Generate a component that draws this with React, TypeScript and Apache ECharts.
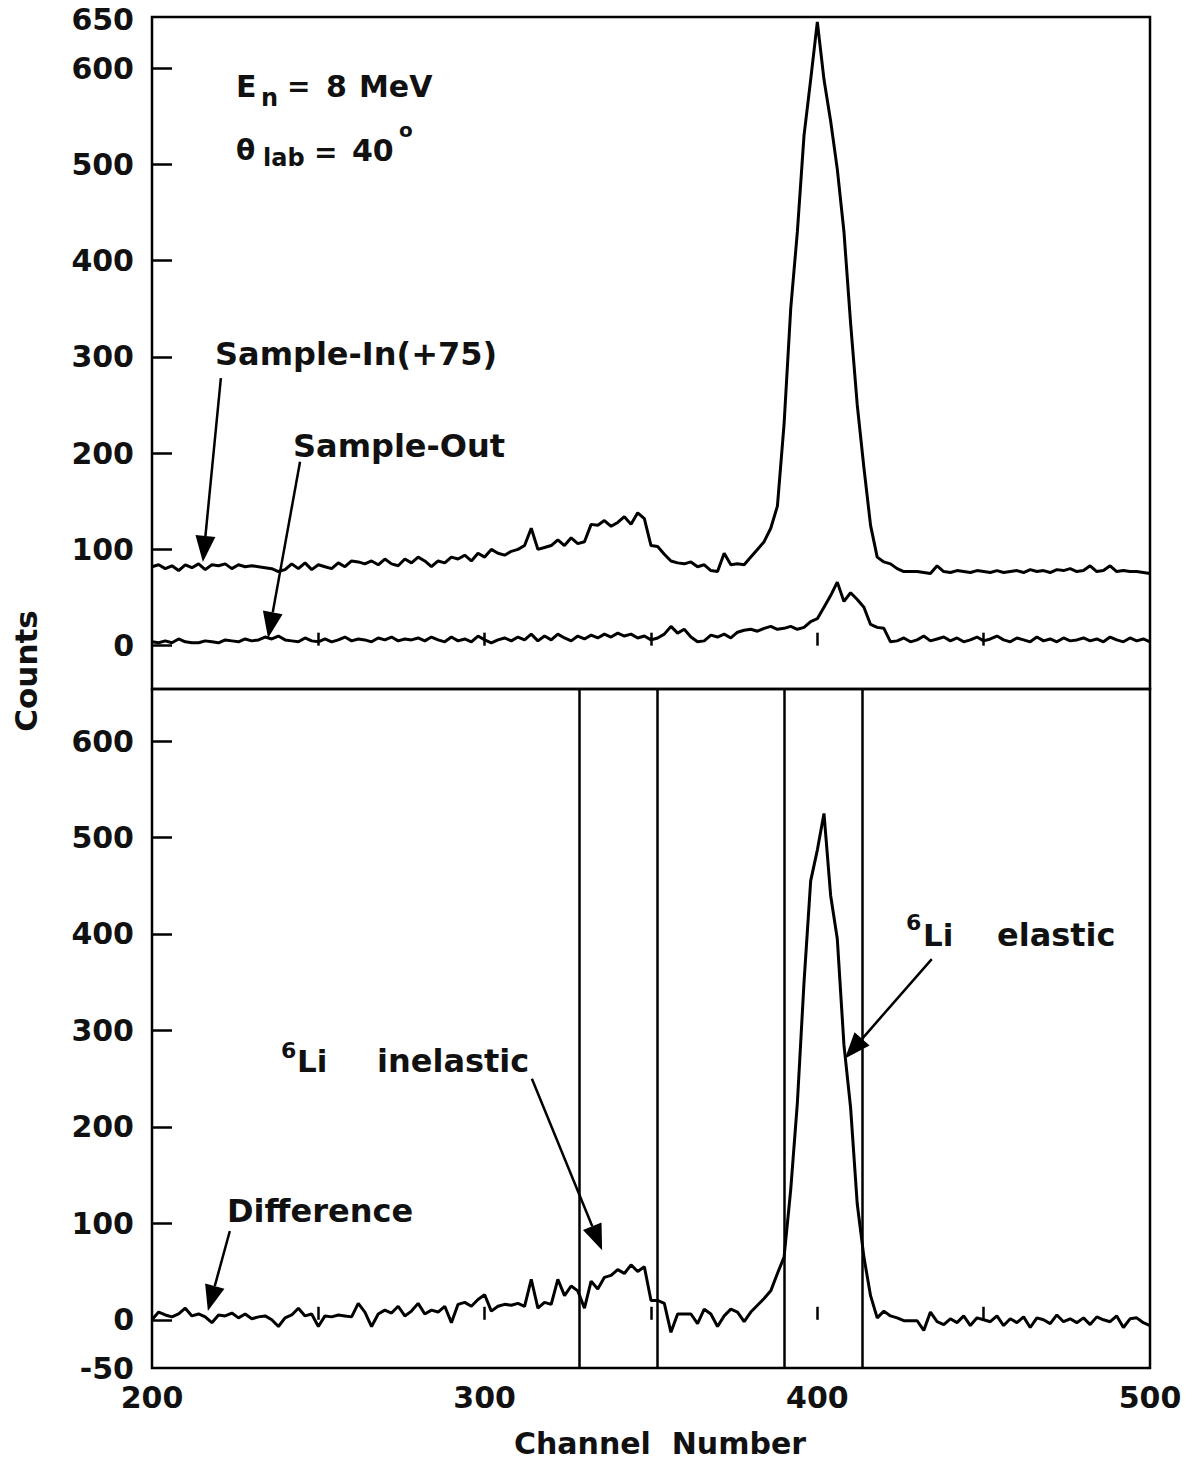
import React, { useEffect, useRef } from "react";
import * as echarts from "echarts";

// Channel axis: first channel and spacing of the listed counts
const CHANNEL_START = 200;
const CHANNEL_STEP = 2;

// Top panel: Sample-In (+75 offset), channels 200..500 step 2
const sampleIn = [
  82, 84, 80, 83, 78, 84, 81, 85, 79, 84,
  83, 85, 80, 84, 82, 83, 82, 81, 80, 77,
  79, 85, 80, 86, 79, 84, 82, 80, 86, 82,
  88, 87, 85, 88, 84, 90, 85, 83, 90, 86,
  92, 88, 82, 88, 86, 92, 90, 94, 88, 96,
  92, 100, 96, 94, 98, 100, 104, 122, 100, 102,
  104, 110, 104, 112, 106, 108, 126, 125, 130, 124,
  128, 134, 126, 138, 132, 104, 103, 95, 88, 86,
  85, 87, 82, 84, 78, 77, 96, 84, 85, 84,
  92, 100, 108, 122, 145, 230, 350, 430, 530, 588,
  648, 588, 545, 495, 430, 335, 250, 185, 125, 92,
  87, 85, 80, 77, 77, 77, 76, 75, 83, 77,
  76, 78, 77, 76, 78, 77, 76, 78, 76, 77,
  78, 76, 79, 77, 78, 76, 79, 78, 80, 77,
  78, 83, 77, 78, 83, 77, 78, 77, 77, 76,
  75,
];

// Top panel: Sample-Out
const sampleOut = [
  4, 3, 5, 3, 7, 4, 3, 3, 5, 4,
  3, 6, 5, 4, 7, 5, 6, 9, 7, 10,
  6, 5, 4, 8, 5, 4, 7, 4, 6, 9,
  5, 7, 6, 4, 8, 6, 9, 5, 7, 6,
  8, 5, 9, 6, 4, 9, 5, 7, 4, 10,
  6, 3, 6, 8, 5, 9, 6, 12, 5, 10,
  6, 12, 8, 5, 10, 7, 11, 8, 12, 9,
  13, 10, 12, 8, 10, 6, 8, 12, 20, 13,
  17, 9, 4, 5, 11, 9, 12, 8, 14, 16,
  17, 15, 18, 20, 17, 18, 20, 17, 19, 25,
  28, 40, 52, 66, 46, 55, 48, 40, 22, 19,
  18, 4, 5, 8, 4, 6, 10, 5, 7, 9,
  5, 8, 4, 6, 9, 5, 7, 10, 6, 4,
  8, 6, 4, 9, 5, 7, 4, 8, 5, 6,
  8, 5, 7, 4, 9, 6, 4, 8, 5, 7,
  4,
];

// Bottom panel: Difference
const difference = [
  0, 8, 5, 3, 6, 12, 4, 6, 3, -3,
  5, 4, 7, 2, 6, 1, 3, 4, 0, -7,
  2, 5, 12, 4, 6, -7, 4, 3, 5, 4,
  3, 17, 8, -7, 6, 10, 7, 14, 4, 9,
  17, 6, 10, 8, 14, -3, 16, 18, 14, 21,
  26, 9, 14, 16, 15, 17, 14, 42, 12, 18,
  16, 42, 25, 35, 30, 12, 40, 32, 44, 46,
  52, 48, 57, 50, 55, 20, 20, 17, -13, 6,
  6, 6, -4, 11, 6, -7, 4, 11, 8, -2,
  8, 15, 22, 30, 48, 65, 135, 225, 350, 455,
  487, 525, 440, 395, 285, 220, 120, 65, 25, 2,
  9, 4, 2, -1, -1, -1, -11, 8, -2, -5,
  1, -3, 4, -6, 2, 0, -2, 4, -6, 1,
  -3, 3, -8, 2, 0, -4, 5, -2, 1, -3,
  2, -5, 3, 0, -2, 4, -8, 1, 2, -3,
  -6,
];

// Integration window boundaries (channels) in the bottom panel
const windowLines = [328.5, 352, 390, 413.5];

// Axis ticks and labels
const xLabelValues = [200, 300, 400, 500];
const xTickValues = [250, 300, 350, 400, 450];
const topYLabelValues = [0, 100, 200, 300, 400, 500, 600, 650];
const topYTickValues = [0, 100, 200, 300, 400, 500, 600];
const bottomYLabelValues = [-50, 0, 100, 200, 300, 400, 500, 600];
const bottomYTickValues = [0, 100, 200, 300, 400, 500, 600];

// Arrow annotations: [gridIndex, tailChannel, tailCounts, tipChannel, tipCounts]
const arrows: [number, number, number, number, number][] = [
  [0, 220.7, 278, 215.3, 87],
  [0, 244.5, 191, 234.9, 8],
  [1, 223.4, 92, 216.8, 9],
  [1, 314.2, 250, 335.3, 72],
  [1, 434.4, 374, 408.3, 271],
];

const FONT = "'DejaVu Sans', 'Liberation Sans', Arial, sans-serif";

function toPairs(values: number[]) {
  return values.map((v, i) => [CHANNEL_START + CHANNEL_STEP * i, v]);
}

function txt(text: string, x: number, y: number, size: number, align = "left", rotation = 0) {
  return {
    type: "text",
    x,
    y,
    rotation,
    silent: true,
    style: {
      text,
      fill: "#111",
      fontSize: size,
      fontWeight: "bold",
      fontFamily: FONT,
      align,
      verticalAlign: "middle",
    },
  };
}

export default function App() {
  const ref = useRef<HTMLDivElement>(null);

  useEffect(() => {
    document.body.style.margin = "0";
    if (!ref.current) return;
    const chart = echarts.init(ref.current, undefined, { renderer: "svg" });

    const labelStyle = {
      fontSize: 30,
      fontWeight: "bold",
      fontFamily: FONT,
      color: "#111",
    };
    const tickStyle = { color: "#000", width: 2.5 };

    const xAxisBase = {
      type: "value",
      min: 200,
      max: 500,
      axisLine: { show: false },
      splitLine: { show: false },
      axisTick: { show: true, inside: true, length: 13, customValues: xTickValues, lineStyle: tickStyle },
    };

    const lineSeries = (name: string, values: number[], g: number, extra: any = {}) => ({
      name,
      type: "line",
      xAxisIndex: g,
      yAxisIndex: g,
      data: toPairs(values),
      showSymbol: false,
      symbol: "none",
      lineStyle: { color: "#000", width: 3 },
      silent: true,
      z: 3,
      ...extra,
    });

    const option: any = {
      animation: false,
      backgroundColor: "#fff",
      grid: [
        { left: 152, top: 17, width: 998, height: 672, show: true, borderColor: "#000", borderWidth: 2.5, backgroundColor: "transparent" },
        { left: 152, top: 689, width: 998, height: 679, show: true, borderColor: "#000", borderWidth: 2.5, backgroundColor: "transparent" },
      ],
      xAxis: [
        { ...xAxisBase, gridIndex: 0, axisLabel: { show: false } },
        {
          ...xAxisBase,
          gridIndex: 1,
          axisLabel: { show: true, customValues: xLabelValues, margin: 14, ...labelStyle },
        },
      ],
      yAxis: [
        {
          type: "value",
          gridIndex: 0,
          min: -45,
          max: 653,
          axisLine: { show: false },
          splitLine: { show: false },
          axisTick: { show: true, inside: true, length: 20, customValues: topYTickValues, lineStyle: tickStyle },
          axisLabel: { show: true, customValues: topYLabelValues, margin: 18, ...labelStyle },
        },
        {
          type: "value",
          gridIndex: 1,
          min: -50,
          max: 654,
          axisLine: { show: false },
          splitLine: { show: false },
          axisTick: { show: true, inside: true, length: 20, customValues: bottomYTickValues, lineStyle: tickStyle },
          axisLabel: { show: true, customValues: bottomYLabelValues, margin: 18, ...labelStyle },
        },
      ],
      series: [
        lineSeries("Sample-In(+75)", sampleIn, 0),
        lineSeries("Sample-Out", sampleOut, 0),
        lineSeries("Difference", difference, 1, {
          markLine: {
            silent: true,
            symbol: ["none", "none"],
            label: { show: false },
            lineStyle: { color: "#000", width: 2.5, type: "solid" },
            data: windowLines.map((x) => ({ xAxis: x })),
          },
        }),
      ],
    };

    chart.setOption(option);

    const graphics: any[] = [];
    arrows.forEach(([g, tx, ty, px, py]) => {
      const tail = chart.convertToPixel({ gridIndex: g }, [tx, ty]) as number[];
      const tip = chart.convertToPixel({ gridIndex: g }, [px, py]) as number[];
      const dx = tip[0] - tail[0];
      const dy = tip[1] - tail[1];
      const len = Math.sqrt(dx * dx + dy * dy);
      const ux = dx / len;
      const uy = dy / len;
      const headLen = 26;
      const headHalf = 10;
      const bx = tip[0] - ux * headLen;
      const by = tip[1] - uy * headLen;
      graphics.push({
        type: "line",
        silent: true,
        shape: { x1: tail[0], y1: tail[1], x2: bx, y2: by },
        style: { stroke: "#000", lineWidth: 2.5 },
        z: 10,
      });
      graphics.push({
        type: "polygon",
        silent: true,
        shape: {
          points: [
            [tip[0], tip[1]],
            [bx - uy * headHalf, by + ux * headHalf],
            [bx + uy * headHalf, by - ux * headHalf],
          ],
        },
        style: { fill: "#000" },
        z: 10,
      });
    });

    graphics.push(
      txt("E", 236, 86, 30),
      txt("n", 261, 98, 24),
      txt("=", 287, 86, 28),
      txt("8", 326, 86, 30),
      txt("MeV", 359, 86, 30),
      txt("θ", 236, 150, 28),
      txt("lab", 263, 158, 24),
      txt("=", 314, 152, 28),
      txt("40", 352, 150, 30),
      txt("o", 399, 130, 20),
      txt("Sample-In(+75)", 215, 354, 32),
      txt("Sample-Out", 293, 446, 32),
      txt("Difference", 227, 1211, 32),
      txt("6", 281, 1050, 22),
      txt("Li", 297, 1061, 31),
      txt("inelastic", 377, 1061, 32),
      txt("6", 906, 922, 22),
      txt("Li", 923, 935, 31),
      txt("elastic", 997, 935, 32),
      txt("Counts", 26, 671, 31, "center", Math.PI / 2),
      txt("Channel  Number", 660, 1443, 30, "center")
    );

    chart.setOption({ graphic: graphics });

    return () => {
      chart.dispose();
    };
  }, []);

  return <div ref={ref} style={{ width: 1200, height: 1461 }} />;
}
